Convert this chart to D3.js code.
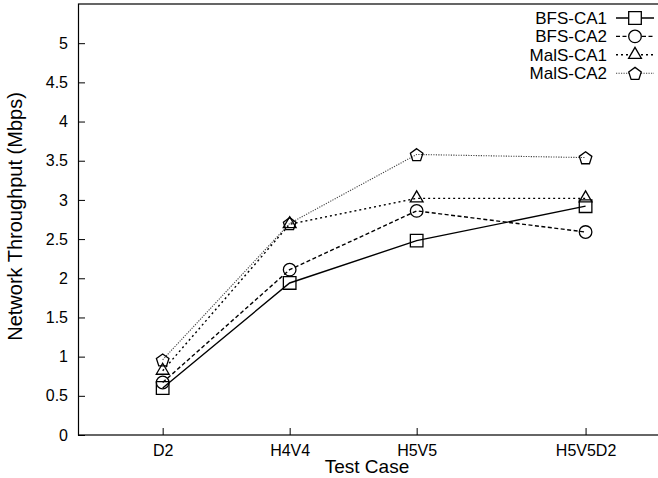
<!DOCTYPE html>
<html>
<head>
<meta charset="utf-8">
<script src="https://cdn.jsdelivr.net/npm/d3@7"></script>
<style>
    body { margin: 0; background: #fff; }
    text { font-family: "Liberation Sans", Arial, sans-serif; fill: #000; }
</style>
</head>
<body>
<div id="chart"></div>
<script>
// Data
var testCases = ["D2", "H4V4", "H5V5", "H5V5D2"];
var caseX = [1, 2, 3, 4.33];
var yTicks = [0, 0.5, 1, 1.5, 2, 2.5, 3, 3.5, 4, 4.5, 5];

var seriesNames = ["BFS-CA1", "BFS-CA2", "MalS-CA1", "MalS-CA2"];
var bfsCa1 = [0.60, 1.94, 2.48, 2.92];
var bfsCa2 = [0.67, 2.11, 2.86, 2.59];
var malsCa1 = [0.82, 2.69, 3.02, 3.02];
var malsCa2 = [0.96, 2.70, 3.58, 3.54];

LineChart = function(_parentElement, _series){
    var vis = this;
    vis.parentElement = _parentElement;
    vis.series = _series;
    vis.initVis();
};

LineChart.prototype.initVis = function(){
    var vis = this;

    vis.margin = { top: 4, right: 0, bottom: 43, left: 78 };
    vis.width = 658 - vis.margin.left - vis.margin.right;
    vis.height = 478 - vis.margin.top - vis.margin.bottom;

    vis.svg = d3.select("#" + vis.parentElement).append("svg")
        .attr("width", 658)
        .attr("height", 478)
        .append("g")
        .attr("transform", "translate(" + vis.margin.left + "," + vis.margin.top + ")");

    // x runs past the right edge of the picture (frame is cut off there)
    vis.x = d3.scaleLinear()
        .domain([1 / 3, 5])
        .range([0, 127 * (5 - 1 / 3)]);

    vis.y = d3.scaleLinear()
        .domain([0, 5.5])
        .range([vis.height, 0]);

    // frame
    vis.svg.append("rect")
        .attr("x", 0.5)
        .attr("y", 0)
        .attr("width", vis.x(5))
        .attr("height", vis.height)
        .attr("fill", "none")
        .attr("stroke", "#000")
        .attr("stroke-width", 1.2);

    // axes, ticks pointing inward
    vis.yAxis = d3.axisRight(vis.y).tickValues(yTicks).tickSize(7).tickFormat(d3.format("~g"));
    vis.xAxis = d3.axisTop(vis.x).tickValues(caseX).tickSize(7)
        .tickFormat(function(d, i){ return testCases[i]; });

    var ya = vis.svg.append("g").attr("class", "axis--y").call(vis.yAxis);
    ya.select(".domain").remove();
    ya.selectAll("line").attr("stroke", "#000");
    ya.selectAll("text")
        .attr("x", -10)
        .attr("text-anchor", "end")
        .style("font-size", "16px");

    var xa = vis.svg.append("g").attr("class", "axis--x")
        .attr("transform", "translate(0," + vis.height + ")")
        .call(vis.xAxis);
    xa.select(".domain").remove();
    xa.selectAll("line").attr("stroke", "#000");
    xa.selectAll("text")
        .attr("y", 21)
        .attr("dy", 0)
        .style("font-size", "16px");

    // axis titles
    vis.svg.append("text")
        .attr("text-anchor", "middle")
        .attr("transform", "translate(" + (-56) + "," + (vis.height / 2 - 3) + ") rotate(-90)")
        .style("font-size", "20px")
        .text("Network Throughput (Mbps)");

    vis.svg.append("text")
        .attr("text-anchor", "middle")
        .attr("x", 289)
        .attr("y", vis.height + 38)
        .style("font-size", "19px")
        .text("Test Case");

    vis.line = d3.line()
        .x(function(d){ return vis.x(d.x); })
        .y(function(d){ return vis.y(d.y); });

    vis.updateVis();
};

// marker outlines, centred on 0,0
function markerPath(shape){
    var p = d3.path();
    if(shape === "square"){
        p.rect(-6.3, -6.3, 12.6, 12.6);
    } else if(shape === "circle"){
        p.arc(0, 0, 6.3, 0, 2 * Math.PI);
    } else if(shape === "triangle"){
        p.moveTo(0, -7.5); p.lineTo(6.4, 3.5); p.lineTo(-6.4, 3.5); p.closePath();
    } else {
        for(var k = 0; k < 5; k++){
            var a = -Math.PI / 2 + k * 2 * Math.PI / 5;
            var px = 6.6 * Math.cos(a), py = 6.6 * Math.sin(a) + 0.8;
            if(k === 0) p.moveTo(px, py); else p.lineTo(px, py);
        }
        p.closePath();
    }
    return p.toString();
}

LineChart.prototype.updateVis = function(){
    var vis = this;

    var groups = vis.svg.selectAll(".series")
        .data(vis.series)
        .enter().append("g")
        .attr("class", "series");

    groups.append("path")
        .attr("d", function(s){
            return vis.line(s.values.map(function(v, i){ return { x: caseX[i], y: v }; }));
        })
        .attr("fill", "none")
        .attr("stroke", function(s){ return s.color; })
        .attr("stroke-width", function(s){ return s.width; })
        .attr("stroke-dasharray", function(s){ return s.dash; });

    groups.selectAll(".marker")
        .data(function(s){ return s.values.map(function(v, i){ return { x: caseX[i], y: v, shape: s.shape }; }); })
        .enter().append("path")
        .attr("class", "marker")
        .attr("transform", function(d){ return "translate(" + vis.x(d.x) + "," + vis.y(d.y) + ")"; })
        .attr("d", function(d){ return markerPath(d.shape); })
        .attr("fill", "none")
        .attr("stroke", "#000")
        .attr("stroke-width", 1.3);

    // legend, top right
    var legend = vis.svg.selectAll(".legend")
        .data(vis.series)
        .enter().append("g")
        .attr("class", "legend")
        .attr("transform", function(s, i){ return "translate(0," + (14 + i * 18.4) + ")"; });

    legend.append("text")
        .attr("x", 529)
        .attr("y", 6)
        .attr("text-anchor", "end")
        .style("font-size", "17px")
        .text(function(s){ return s.name; });

    legend.append("line")
        .attr("x1", 538).attr("x2", 576)
        .attr("stroke", function(s){ return s.color; })
        .attr("stroke-width", function(s){ return s.width; })
        .attr("stroke-dasharray", function(s){ return s.dash; });

    legend.append("path")
        .attr("transform", "translate(557,0)")
        .attr("d", function(s){ return markerPath(s.shape); })
        .attr("fill", "#fff")
        .attr("stroke", "#000")
        .attr("stroke-width", 1.3);
};

var chart = new LineChart("chart", [
    { name: seriesNames[0], values: bfsCa1, shape: "square", dash: null, color: "#000", width: 1.4 },
    { name: seriesNames[1], values: bfsCa2, shape: "circle", dash: "4,2.5", color: "#000", width: 1.4 },
    { name: seriesNames[2], values: malsCa1, shape: "triangle", dash: "2,3", color: "#000", width: 1.4 },
    { name: seriesNames[3], values: malsCa2, shape: "pentagon", dash: "1.2,1.3", color: "#444", width: 1.1 }
]);
</script>
</body>
</html>
